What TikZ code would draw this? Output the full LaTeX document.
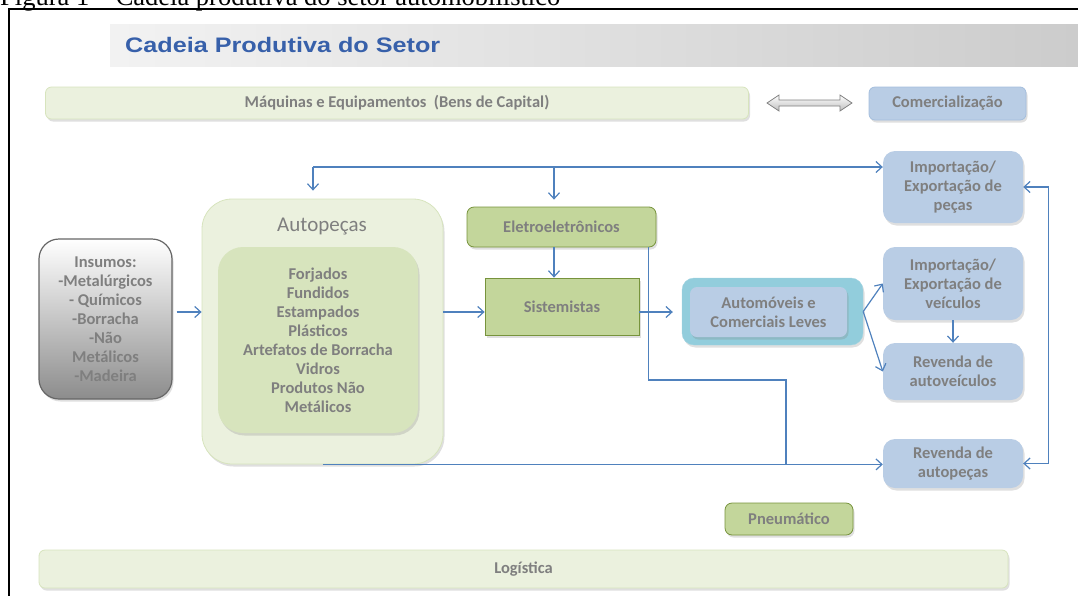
\documentclass[tikz,border=0pt]{standalone}
\usepackage{fontspec}
\setmainfont{Carlito}
\newfontfamily\titlefont[FakeStretch=1.2]{Liberation Sans}
\newfontfamily\captionfont{Liberation Serif}
\usepackage{xcolor}
\usepackage{tikz}
\usetikzlibrary{shapes.geometric, arrows.meta, shadows}
\definecolor{linkblue}{RGB}{79,129,189}
\definecolor{titleblue}{RGB}{55,96,170}
\definecolor{textgray}{RGB}{127,127,127}
\definecolor{palegreen}{RGB}{235,241,222}
\definecolor{midgreen}{RGB}{215,228,189}
\definecolor{boxgreen}{RGB}{195,214,155}
\definecolor{darkgreen}{RGB}{119,147,60}
\definecolor{paleblue}{RGB}{185,205,229}
\definecolor{cyanblue}{RGB}{146,205,220}
\tikzstyle{soft} = [drop shadow={shadow xshift=1.5pt,shadow yshift=-2.5pt,opacity=0.25}]
\tikzstyle{txt} = [inner sep=0pt, align=center, text=textgray, font=\fontsize{16.5}{19}\selectfont\bfseries]
\tikzstyle{greenbox} = [txt, rectangle, rounded corners=7pt, fill=boxgreen, draw=darkgreen, line width=0.8pt, soft]
\tikzstyle{bluebox} = [txt, rectangle, rounded corners=12pt, fill=paleblue, soft]
\tikzstyle{palebox} = [txt, rectangle, rounded corners=6pt, fill=palegreen, draw=midgreen, line width=0.8pt, soft]
\tikzstyle{link} = [draw=linkblue, line width=1.2pt, ->, >={Straight Barb[length=6pt,width=11pt]}]

\begin{document}
\begin{tikzpicture}[x=1pt, y=-1pt]
            \useasboundingbox (0,0) rectangle (1078,595);
            % caption, cut off by the top of the page
            \node[anchor=base west, inner sep=0pt, font=\captionfont\fontsize{26.5}{30}\selectfont] (caption) at (0,5) {Figura 1 – Cadeia produtiva do setor automobilístico};

            % title band
            \shade[left color=black!5, right color=black!20] (110,24) rectangle (1078,66);
            \node[anchor=west, inner sep=0pt, text=titleblue, font=\titlefont\bfseries\fontsize{21}{24}\selectfont] (title) at (125,45) {Cadeia Produtiva do Setor};

            \node[palebox, minimum width=703, minimum height=32] (machines) at (397,103) {Máquinas e Equipamentos\ \ (Bens de Capital)};
            \draw[draw=black!50, top color=white, bottom color=black!25, line width=0.8pt] (767,103) -- (779,95) -- (779,100) -- (840,100) -- (840,95) -- (852,103) -- (840,111) -- (840,106) -- (779,106) -- (779,111) -- cycle;
            \node[bluebox, rounded corners=6pt, draw=paleblue!80!linkblue, line width=0.8pt, minimum width=157, minimum height=33] (trade) at (947.5,103.5) {Comercialização};

            \node[txt, rectangle, rounded corners=20pt, top color=white, bottom color=black!45, draw=black!60, line width=1.2pt, soft, minimum width=133, minimum height=160] (inputs) at (105.5,319) {Insumos:\\-Metalúrgicos\\- Químicos\\-Borracha\\-Não\\Metálicos\\-Madeira};

            \node[palebox, rounded corners=30pt, minimum width=241, minimum height=265] (parts) at (322.5,331.5) {};
            \node[inner sep=0pt, text=textgray, font=\fontsize{21}{24}\selectfont] (partstitle) at (322,227) {Autopeças};
            \node[txt, rectangle, rounded corners=25pt, fill=midgreen, soft, minimum width=200, minimum height=186] (partslist) at (318,340) {Forjados\\Fundidos\\Estampados\\Plásticos\\Artefatos de Borracha\\Vidros\\Produtos Não\\Metálicos};

            \node[greenbox, minimum width=189, minimum height=40] (electro) at (561.5,227) {Eletroeletrônicos};
            \node[greenbox, rounded corners=0pt, minimum width=154, minimum height=57] (systems) at (562,306.5) {Sistemistas};

            \node[rectangle, rounded corners=12pt, fill=cyanblue, draw=cyanblue!85!white, soft, minimum width=181, minimum height=67] (autos) at (772.5,311.5) {};
            \node[bluebox, rounded corners=7pt, minimum width=157, minimum height=50] (autosin) at (768.5,312) {Automóveis e\\Comerciais Leves};

            \node[bluebox, minimum width=140, minimum height=72] (partsimp) at (953,187) {Importação/\\Exportação de\\peças};
            \node[bluebox, minimum width=140, minimum height=73] (vehimp) at (953,283.5) {Importação/\\Exportação de\\veículos};
            \node[bluebox, minimum width=140, minimum height=57] (vehresale) at (953,371.5) {Revenda de\\autoveículos};
            \node[bluebox, minimum width=140, minimum height=49] (partsresale) at (953,463.5) {Revenda de\\autopeças};

            \node[greenbox, minimum width=128, minimum height=32] (tyres) at (789,519) {Pneumático};
            \node[palebox, minimum width=969, minimum height=38] (logistics) at (523.5,569) {Logística};

            % connectors
            \coordinate (top) at (313,167);
            \coordinate (branch) at (554,167);
            \coordinate (axis) at (0,312);
            \coordinate (bend) at (786,380);
            \draw[link, shorten >=8pt] (top) -- (top |- parts.north);
            \draw[link] (top) -- (top -| partsimp.west);
            \draw[link, shorten >=7pt] (branch) -- (branch |- electro.north);
            \draw[link] (branch |- electro.south) -- (branch |- systems.north);
            \draw[link, shorten <=4pt] (inputs.east |- axis) -- (parts.west |- axis);
            \draw[link] (parts.east |- axis) -- (systems.west |- axis);
            \draw[link, shorten >=9pt] (systems.east |- axis) -- (autos.west |- axis);
            \draw[link] (autos.east) -- (vehimp.west);
            \draw[link] (autos.east) -- (vehresale.west);
            \draw[link] (vehimp.south) -- (vehresale.north);
            \draw[link] (parts.south) -- (parts.south -| partsresale.west);
            \draw[link, -] ([xshift=-8pt]electro.south east) |- (bend) -- (bend |- partsresale.west);
            \draw[link, <->] (partsimp.east) -- ++(25,0) |- (partsresale.east);

            % frame
            \draw[line width=2.2pt] (1080,9) -- (9,9) -- (9,600);
\end{tikzpicture}
\end{document}
